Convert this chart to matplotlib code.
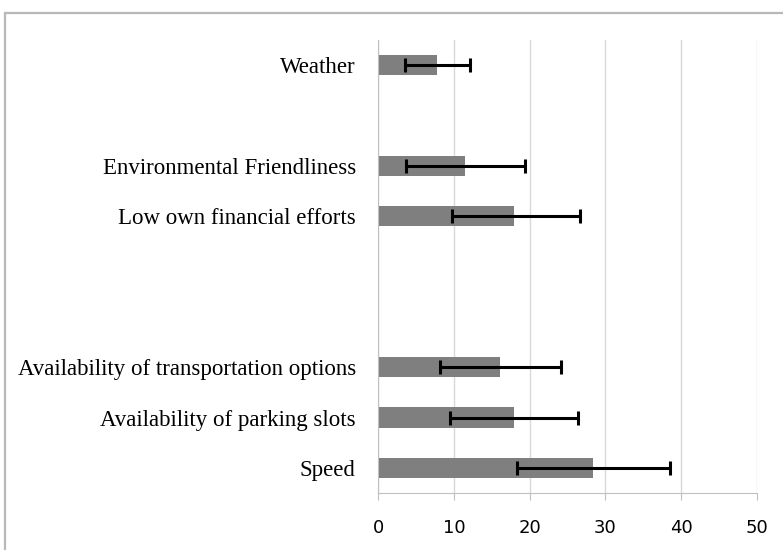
import matplotlib.pyplot as plt
from matplotlib.patches import Rectangle

# data (slot position from bottom, empty slots are gaps)
labels = ['Speed', 'Availability of parking slots',
          'Availability of transportation options',
          'Low own financial efforts', 'Environmental Friendliness', 'Weather']
slots = [0, 1, 2, 5, 6, 8]
means = [28.3, 17.9, 16.1, 18.0, 11.5, 7.8]
err_lo = [18.3, 9.5, 8.2, 9.8, 3.7, 3.5]
err_hi = [38.5, 26.4, 24.2, 26.6, 19.4, 12.1]
xticks = [0, 10, 20, 30, 40, 50]

fig = plt.figure(figsize=(7.83, 5.5), dpi=100)
ax = fig.add_axes([0.4828, 0.1036, 0.4840, 0.8234])

# outer chart border (cut off by the image on right/bottom)
fig.patches.append(Rectangle((5 / 783, -0.05), 1.1, 1.05 - 13 / 550,
                             transform=fig.transFigure, fill=False,
                             edgecolor='#b8b8b8', linewidth=1.6))

ax.barh(slots, means, height=0.4, color='#7f7f7f', zorder=2)
xerr = [[m - lo for m, lo in zip(means, err_lo)],
        [hi - m for m, hi in zip(means, err_hi)]]
ax.errorbar(means, slots, xerr=xerr, fmt='none', ecolor='black',
            elinewidth=2.2, capsize=5, capthick=2.2, zorder=3)

ax.set_xlim(0, 50)
ax.set_ylim(-0.5, 8.5)
ax.set_xticks(xticks)
ax.set_xticklabels([str(t) for t in xticks], fontsize=13, family='DejaVu Sans')
ax.set_yticks(slots)
ax.set_yticklabels(labels, fontsize=16.5, family='Liberation Serif')
ax.tick_params(axis='y', length=0, pad=16)
ax.tick_params(axis='x', length=5, color='#c0c0c0', pad=14)
ax.grid(axis='x', color='#d9d9d9', linewidth=1, zorder=0)
ax.set_axisbelow(True)
for s in ['top', 'right']:
    ax.spines[s].set_visible(False)
for s in ['left', 'bottom']:
    ax.spines[s].set_color('#c0c0c0')

fig.savefig('out.png', dpi=100)
